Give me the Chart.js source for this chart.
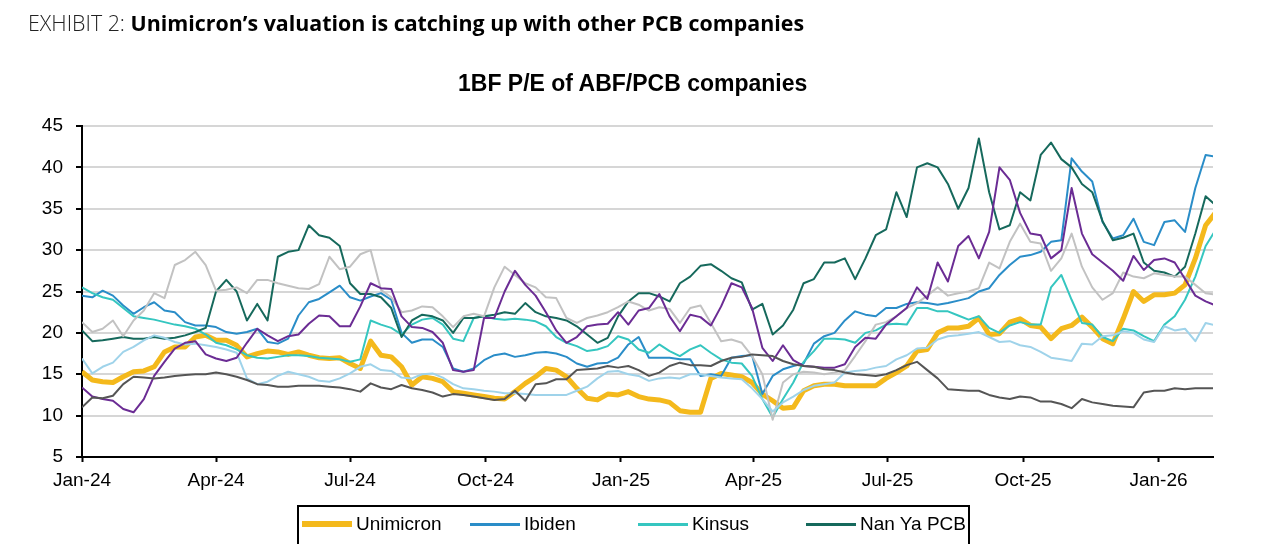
<!DOCTYPE html>
<html>
<head>
<meta charset="utf-8">
<script src="https://cdn.jsdelivr.net/npm/chart.js@4.4.1/dist/chart.umd.min.js"></script>
<style>
  body { margin: 0; background: #fff; }
  #page { position: relative; width: 1280px; height: 544px; overflow: hidden; font-family: "Liberation Sans", Arial, sans-serif; color: #000; }
  #heading { position: absolute; left: 28px; top: 12px; font-family: "Open Sans", Roboto, sans-serif; font-size: 21.4px; line-height: 22px; white-space: nowrap; }
  #heading .lt { font-weight: 300; color: #222; }
  #heading b { font-weight: 700; }
  #title { position: absolute; left: 458px; top: 71px; font-size: 23px; line-height: 25px; font-weight: bold; white-space: nowrap; }
  #chart { position: absolute; left: 0; top: 0; }
  #legend { position: absolute; left: 297px; top: 505px; width: 673px; height: 60px; border: 2px solid #000; box-sizing: border-box; }
  .item { position: absolute; top: 5px; height: 24px; display: flex; align-items: center; font-size: 19px; white-space: nowrap; }
  .swatch { width: 50px; margin-right: 4px; }
</style>
</head>
<body>
<div id="page">
  <canvas id="chart" width="1280" height="544"></canvas>
  <div id="heading"><span class="lt">EXHIBIT 2:</span> <b>Unimicron’s valuation is catching up with other PCB companies</b></div>
  <div id="title">1BF P/E of ABF/PCB companies</div>
  <div id="legend"></div>
</div>
<script>
// weekly readings, first one at 1 Jan 2024
const UNIMICRON = [
  15.3, 14.3, 14.1, 14.0, 14.7, 15.3, 15.4, 15.9, 17.7, 18.3,
  18.3, 19.5, 19.7, 19.1, 19.1, 18.5, 17.1, 17.5, 17.8, 17.7,
  17.4, 17.7, 17.3, 17.0, 16.9, 17.0, 16.3, 15.7, 19.0, 17.3,
  17.1, 15.9, 13.7, 14.7, 14.5, 14.1, 12.9, 12.7, 12.5, 12.3,
  12.1, 12.0, 12.9, 13.9, 14.7, 15.7, 15.5, 14.7, 13.3, 12.1,
  11.9, 12.6, 12.5, 12.9, 12.3, 12.0, 11.9, 11.6, 10.6, 10.4,
  10.4, 14.5, 15.1, 14.9, 14.7, 14.0, 12.6, 11.8, 10.9, 11.0,
  13.0, 13.6, 13.8, 13.8, 13.6, 13.6, 13.6, 13.6, 14.5, 15.2,
  16.0, 17.8, 18.0, 20.0, 20.6, 20.6, 20.8, 21.8, 19.8, 19.9,
  21.3, 21.7, 20.9, 20.7, 19.3, 20.5, 20.9, 21.9, 20.7, 19.3,
  18.7, 21.7, 25.0, 23.8, 24.6, 24.6, 24.8, 25.8, 29.0, 33.0, 34.6
];
const IBIDEN = [
  24.5, 24.3, 25.1, 24.5, 23.3, 22.3, 23.1, 23.7, 22.7, 22.5,
  21.3, 20.9, 20.9, 20.7, 20.1, 19.9, 20.1, 20.5, 18.9, 18.7,
  19.3, 22.1, 23.7, 24.1, 24.9, 25.7, 24.3, 23.9, 24.4, 24.8,
  24.0, 20.0, 18.8, 19.2, 19.2, 18.3, 15.7, 15.3, 15.7, 16.7,
  17.3, 17.5, 17.1, 17.3, 17.6, 17.7, 17.5, 17.1, 16.3, 15.9,
  16.3, 16.4, 17.0, 18.6, 19.5, 17.0, 17.0, 17.0, 16.8, 16.8,
  14.8, 15.0, 14.8, 17.0, 17.2, 17.3, 12.6, 14.8, 15.6, 16.0,
  16.3, 18.7, 19.6, 20.0, 21.5, 22.6, 22.2, 22.0, 23.0, 23.0,
  23.5, 23.7, 23.6, 23.4, 23.6, 23.9, 24.2, 25.0, 25.4, 27.0,
  28.2, 29.2, 29.4, 29.8, 31.0, 31.2, 41.1, 39.5, 38.3, 33.4,
  31.4, 31.8, 33.8, 31.0, 30.6, 33.4, 33.6, 32.2, 37.5, 41.5, 41.3
];
const KINSUS = [
  25.5, 24.8, 24.3, 24.0, 23.0, 22.0, 21.8, 21.6, 21.3, 21.0,
  20.8, 20.5, 19.8, 18.8, 18.5, 18.0, 17.3, 17.0, 16.9, 17.1,
  17.3, 17.3, 17.2, 17.0, 16.9, 16.8, 16.5, 16.8, 21.5, 21.0,
  20.6, 19.8, 21.0, 21.6, 21.8, 21.0, 19.3, 19.0, 21.8, 22.0,
  21.7, 21.6, 21.7, 21.6, 21.4, 20.8, 19.5, 18.8, 18.4, 17.8,
  18.0, 18.4, 19.6, 19.2, 18.0, 17.6, 18.6, 17.8, 17.2, 18.0,
  18.5, 17.6, 16.8, 16.4, 16.3, 14.8, 12.0, 9.8, 12.0, 14.0,
  16.5, 17.8, 19.3, 19.3, 19.2, 18.8, 20.0, 20.3, 21.0, 21.1,
  21.0, 23.0, 23.0, 22.6, 22.6, 22.1, 21.6, 22.0, 20.6, 20.0,
  20.9, 21.3, 21.0, 21.0, 25.5, 27.0, 24.0, 21.2, 21.0, 19.5,
  19.0, 20.5, 20.3, 19.6, 19.0, 21.0, 22.0, 24.0, 26.8, 30.5, 32.5
];
const NAN_YA_PCB = [
  20.3, 19.0, 19.1, 19.3, 19.5, 19.3, 19.3, 19.5, 19.3, 19.4,
  19.7, 20.1, 20.6, 25.0, 26.4, 25.0, 21.5, 23.5, 21.5, 29.2,
  29.8, 30.0, 33.0, 31.8, 31.5, 30.5, 26.0, 24.7, 24.7, 24.3,
  23.0, 19.5, 21.5, 22.2, 22.0, 21.5, 20.0, 21.8, 21.8, 22.0,
  22.2, 22.5, 22.3, 23.6, 22.5, 22.0, 21.8, 21.5, 20.8, 19.8,
  18.8, 19.4, 22.0, 23.8, 24.8, 24.8, 24.4, 23.8, 26.0, 26.8,
  28.1, 28.3, 27.5, 26.6, 26.1, 22.8, 23.5, 19.8, 20.9, 22.8,
  26.0, 26.5, 28.5, 28.5, 29.0, 26.5, 29.0, 31.8, 32.5, 37.0,
  34.0, 40.0, 40.5, 40.0, 38.0, 35.0, 37.5, 43.5, 37.0, 32.5,
  33.0, 37.0, 36.0, 41.5, 43.0, 41.0, 40.0, 38.0, 37.0, 33.5,
  31.2, 31.5, 32.0, 28.5, 27.5, 27.3, 26.8, 28.0, 32.0, 36.5, 35.4
];
// the legend is cut off below the first row, these four are unnamed in the picture
const PEER_GREY = [
  21.3, 20.1, 20.5, 21.5, 19.6, 21.5, 22.7, 24.8, 24.2, 28.2,
  28.8, 29.8, 28.2, 25.1, 25.2, 25.5, 24.8, 26.4, 26.4, 26.0,
  25.7, 25.4, 25.3, 25.9, 29.2, 27.7, 28.0, 29.5, 30.0, 25.2,
  24.3, 22.5, 22.7, 23.2, 23.1, 22.0, 20.7, 22.0, 22.3, 22.0,
  25.5, 28.0, 27.0, 26.0, 25.5, 24.3, 24.2, 21.8, 21.2, 21.8,
  22.1, 22.5, 23.1, 23.8, 23.4, 22.7, 23.1, 22.9, 21.2, 23.0,
  23.3, 21.2, 19.0, 19.2, 18.8, 17.2, 15.0, 9.5, 14.0, 15.0,
  15.3, 15.2, 15.0, 15.2, 15.5, 17.2, 19.0, 21.0, 21.3, 22.0,
  23.0, 23.6, 24.5, 25.5, 24.5, 24.8, 25.0, 25.4, 28.5, 27.8,
  31.0, 33.2, 31.0, 30.8, 27.5, 29.0, 32.0, 28.0, 25.5, 24.0,
  24.8, 27.3, 26.8, 26.6, 27.2, 27.0, 26.8, 26.8, 25.8, 24.8, 24.6
];
const PEER_LIGHT_BLUE = [
  16.9, 15.1, 15.9, 16.4, 17.7, 18.3, 19.1, 19.7, 19.4, 18.9,
  18.6, 18.7, 18.5, 18.3, 18.0, 17.6, 14.5, 13.8, 14.1, 14.8,
  15.3, 15.0, 14.7, 14.2, 14.1, 14.5, 15.1, 15.9, 16.2, 15.5,
  15.4, 14.6, 14.5, 15.0, 15.1, 14.6, 13.8, 13.3, 13.2, 13.0,
  12.9, 12.7, 12.7, 12.6, 12.5, 12.5, 12.5, 12.5, 13.0, 13.5,
  14.5, 15.3, 15.4, 15.0, 14.8, 14.2, 14.5, 14.6, 14.5, 15.0,
  15.0, 14.8, 14.6, 14.5, 14.4, 13.3, 12.0, 10.5, 11.6, 12.3,
  13.1, 13.6, 13.8, 14.0, 15.2, 15.4, 15.5, 15.8, 16.0, 16.8,
  17.3, 18.1, 18.2, 19.2, 19.6, 19.7, 19.9, 20.1, 19.5, 18.9,
  19.0, 18.5, 18.3, 17.7, 17.0, 16.8, 16.6, 18.7, 18.6, 19.6,
  19.7, 20.2, 20.0, 19.2, 18.9, 20.8, 20.3, 20.5, 19.0, 21.2, 20.9
];
const PEER_PURPLE = [
  13.4, 12.3, 12.0, 11.8, 10.8, 10.4, 12.0, 14.8, 16.5, 18.1,
  18.8, 19.0, 17.4, 16.9, 16.6, 17.0, 18.8, 20.5, 19.7, 19.0,
  19.6, 19.8, 21.1, 22.1, 22.0, 20.8, 20.8, 23.2, 26.0, 25.4,
  25.3, 22.0, 20.7, 20.6, 20.1, 18.8, 15.5, 15.3, 15.5, 21.8,
  21.8, 25.0, 27.5, 25.8, 24.5, 22.5, 20.3, 18.8, 19.5, 20.8,
  21.0, 21.1, 22.5, 21.0, 22.7, 23.0, 24.7, 22.0, 20.2, 22.2,
  21.9, 20.9, 23.2, 26.0, 25.5, 23.0, 18.2, 16.6, 18.5, 16.7,
  16.0, 15.9, 15.8, 15.8, 16.2, 18.3, 19.4, 19.3, 21.0, 22.0,
  23.0, 25.5, 24.1, 28.5, 26.2, 30.5, 31.7, 29.0, 32.2, 40.0,
  38.5, 34.5, 32.0, 31.8, 29.0, 30.0, 37.5, 32.0, 29.5, 28.5,
  27.5, 26.3, 29.3, 27.6, 28.8, 29.0, 28.5, 26.5, 24.5, 23.8, 23.3
];
const PEER_DARK_GREY = [
  11.0, 12.2, 12.1, 12.4, 13.8, 14.7, 14.6, 14.5, 14.6, 14.8,
  14.9, 15.0, 15.0, 15.2, 15.0, 14.7, 14.3, 13.8, 13.7, 13.5,
  13.5, 13.6, 13.6, 13.6, 13.5, 13.4, 13.2, 12.9, 13.9, 13.4,
  13.2, 13.7, 13.3, 13.1, 12.8, 12.3, 12.6, 12.5, 12.3, 12.1,
  11.9, 12.0, 13.0, 11.8, 13.8, 13.9, 14.4, 14.4, 15.5, 15.6,
  15.7, 16.0, 15.8, 16.0, 15.5, 14.8, 15.2, 16.0, 16.4, 16.1,
  16.1, 16.0, 16.6, 17.0, 17.1, 17.4, 17.3, 17.2, 16.6, 16.2,
  16.0, 15.9, 15.6, 15.5, 15.2, 15.0, 14.9, 14.8, 15.0, 15.5,
  16.1, 16.5, 15.5, 14.5, 13.2, 13.1, 13.0, 13.0, 12.5, 12.2,
  12.0, 12.3, 12.2, 11.7, 11.7, 11.4, 10.9, 12.0, 11.6, 11.4,
  11.2, 11.1, 11.0, 12.8, 13.0, 13.0, 13.3, 13.2, 13.3, 13.3, 13.3
];

const START = '2024-01-01';
const TICK_DATES = ['2024-01-01', '2024-04-01', '2024-07-01', '2024-10-01', '2025-01-01',
                    '2025-04-01', '2025-07-01', '2025-10-01', '2026-01-01'];
const TICK_LABELS = ['Jan-24', 'Apr-24', 'Jul-24', 'Oct-24', 'Jan-25', 'Apr-25', 'Jul-25', 'Oct-25', 'Jan-26'];
const LAST_DAY = 768;

const DAY_MS = 86400000;
const dayOf = d => Math.round((Date.parse(d) - Date.parse(START)) / DAY_MS);
const TICK_DAYS = TICK_DATES.map(dayOf);
const weekDays = UNIMICRON.map((_, i) => i * 7);

const SERIES = [
  { label: 'Unimicron', data: UNIMICRON, color: '#F4B91C', width: 5, legend: true },
  { label: 'Ibiden', data: IBIDEN, color: '#2A8DC8', width: 2, legend: true },
  { label: 'Kinsus', data: KINSUS, color: '#35C6C0', width: 2, legend: true },
  { label: 'Nan Ya PCB', data: NAN_YA_PCB, color: '#16695C', width: 2, legend: true },
  { label: 'Peer (grey)', data: PEER_GREY, color: '#C2C2C2', width: 2, legend: false },
  { label: 'Peer (light blue)', data: PEER_LIGHT_BLUE, color: '#9FD3EA', width: 2, legend: false },
  { label: 'Peer (purple)', data: PEER_PURPLE, color: '#6B2C94', width: 2, legend: false },
  { label: 'Peer (dark grey)', data: PEER_DARK_GREY, color: '#555555', width: 2, legend: false },
];

const datasets = SERIES.map((s, i) => ({
  label: s.label,
  data: s.data.map((v, j) => ({ x: weekDays[j], y: v })),
  borderColor: s.color,
  borderWidth: s.width,
  pointRadius: 0,
  tension: 0,
  borderJoinStyle: 'round',
  order: SERIES.length - i,   // first series at the bottom, like the source
}));

const tickFont = { family: '"Liberation Sans", Arial, sans-serif', size: 19 };

new Chart(document.getElementById('chart'), {
  type: 'line',
  data: { datasets },
  options: {
    responsive: false,
    animation: false,
    devicePixelRatio: 1,
    layout: { padding: { left: 0, right: 67, top: 126, bottom: 47 } },
    plugins: { legend: { display: false }, tooltip: { enabled: false } },
    scales: {
      x: {
        type: 'linear',
        min: 0,
        max: LAST_DAY,
        afterBuildTicks: scale => { scale.ticks = TICK_DAYS.map(v => ({ value: v })); },
        afterFit: scale => { scale.height = 40; },
        ticks: {
          autoSkip: false,
          maxRotation: 0,
          padding: 7,
          color: '#000',
          font: tickFont,
          callback: v => TICK_LABELS[TICK_DAYS.indexOf(v)] ?? '',
        },
        grid: { drawOnChartArea: false, drawTicks: true, tickLength: 5, tickColor: '#000', tickWidth: 2 },
        border: { color: '#000', width: 2 },
      },
      y: {
        min: 5,
        max: 45,
        afterFit: scale => { scale.width = 82; },
        ticks: { stepSize: 5, padding: 13, color: '#000', font: tickFont },
        grid: { color: '#D6D6D6', lineWidth: 2, tickLength: 6, tickColor: '#000', tickWidth: 2 },
        border: { color: '#000', width: 2 },
      },
    },
  },
});

// legend: only the first row is visible in the source
const legend = document.getElementById('legend');
SERIES.filter(s => s.legend).forEach((s, i) => {
  const item = document.createElement('div');
  item.className = 'item';
  item.style.left = (3 + i * 168) + 'px';
  const sw = document.createElement('div');
  sw.className = 'swatch';
  sw.style.height = (s.width === 5 ? 6 : 3) + 'px';
  sw.style.background = s.color;
  const txt = document.createElement('span');
  txt.textContent = s.label;
  item.appendChild(sw);
  item.appendChild(txt);
  legend.appendChild(item);
});
</script>
</body>
</html>
